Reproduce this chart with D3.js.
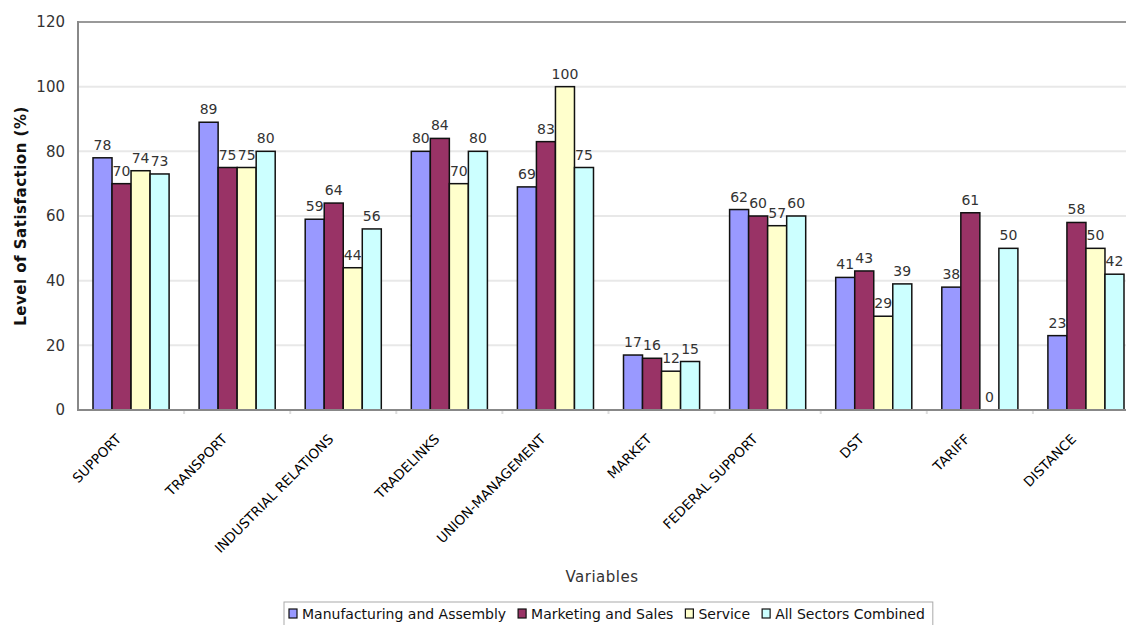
<!DOCTYPE html>
<html><head><meta charset="utf-8">
<script src="https://cdn.jsdelivr.net/npm/d3@7"></script>
<style>body{margin:0;background:#fff;} svg{display:block;}</style>
</head><body>
<svg id="c" width="1126" height="625"></svg>
<script>
const categories = ["SUPPORT","TRANSPORT","INDUSTRIAL RELATIONS","TRADELINKS","UNION-MANAGEMENT","MARKET","FEDERAL SUPPORT","DST","TARIFF","DISTANCE"];
const seriesNames = ["Manufacturing and Assembly","Marketing and Sales","Service","All Sectors Combined"];
const manufacturing = [78,89,59,80,69,17,62,41,38,23];
const marketing = [70,75,64,84,83,16,60,43,61,58];
const service = [74,75,44,70,100,12,57,29,0,50];
const allSectors = [73,80,56,80,75,15,60,39,50,42];
const yTicks = [0,20,40,60,80,100,120];
const colors = ["#9999ff","#993366","#ffffcc","#ccffff"];
const series = [manufacturing, marketing, service, allSectors];

(function(){
const FONT = "DejaVu Sans, Verdana, sans-serif";
const svg = d3.select("#c");
const pL = 78, pR = 1139, pT = 22, pB = 410;
const x0 = d3.scaleBand().domain(categories).range([pL, pR]).padding(0);
const x1 = d3.scaleBand().domain(d3.range(4)).range([15, x0.bandwidth() - 15]).padding(0);
const y = d3.scaleLinear().domain([0,120]).range([pB, pT]);

// gridlines
svg.append("g").selectAll("line").data(yTicks.filter(d => d > 0 && d < 120)).join("line")
  .attr("x1", pL).attr("x2", 1126).attr("y1", d => y(d)).attr("y2", d => y(d))
  .attr("stroke", "#e8e8e8").attr("stroke-width", 2);

// top frame
svg.append("line").attr("x1", pL).attr("x2", 1126).attr("y1", y(120)).attr("y2", y(120))
  .attr("stroke", "#999").attr("stroke-width", 2);

// bottom tick marks
svg.append("g").selectAll("line").data(categories.slice(1)).join("line")
  .attr("x1", d => x0(d)).attr("x2", d => x0(d)).attr("y1", pB).attr("y2", pB + 4)
  .attr("stroke", "#ddd").attr("stroke-width", 2);

// bars
const groups = svg.append("g").selectAll("g").data(categories).join("g")
  .attr("transform", d => `translate(${x0(d)},0)`);
groups.selectAll("rect").data((d, i) => series.map((s, k) => ({k, v: s[i]}))).join("rect")
  .attr("x", d => x1(d.k)).attr("width", x1.bandwidth())
  .attr("y", d => y(d.v)).attr("height", d => y(0) - y(d.v))
  .attr("fill", d => colors[d.k]).attr("stroke", "#111").attr("stroke-width", 1.5);
groups.selectAll("text").data((d, i) => series.map((s, k) => ({k, v: s[i]}))).join("text")
  .attr("x", d => x1(d.k) + x1.bandwidth() / 2).attr("y", d => y(d.v) - 8)
  .attr("text-anchor", "middle").attr("font-family", FONT)
  .attr("font-size", 14).attr("fill", "#333").text(d => d.v);

// axes lines
svg.append("line").attr("x1", pL).attr("x2", pL).attr("y1", pT - 1).attr("y2", pB + 1)
  .attr("stroke", "#888").attr("stroke-width", 2);
svg.append("line").attr("x1", pL).attr("x2", 1126).attr("y1", pB).attr("y2", pB)
  .attr("stroke", "#888").attr("stroke-width", 2);

// y tick labels
const yAxis = d3.axisLeft(y).tickValues(yTicks).tickSize(0).tickPadding(13);
const ya = svg.append("g").attr("transform", `translate(${pL},0)`).call(yAxis);
ya.select(".domain").remove();
ya.selectAll("text").attr("font-family", FONT)
  .attr("font-size", 15).attr("fill", "#333");

// x labels
const xAxis = d3.axisBottom(x0).tickSize(0).tickPadding(0);
const xa = svg.append("g").attr("transform", `translate(0,${pB})`).call(xAxis);
xa.select(".domain").remove();
xa.selectAll("text")
  .attr("font-family", FONT).attr("font-size", 13.5).attr("fill", "#000")
  .attr("text-anchor", "end").attr("dy", 0).attr("y", 0)
  .attr("transform", "translate(-9,30) rotate(-45)");

// axis titles
svg.append("text").attr("x", 602).attr("y", 582).attr("text-anchor", "middle")
  .attr("font-family", FONT).attr("font-size", 15)
  .attr("letter-spacing", 0.5).attr("fill", "#333").text("Variables");
svg.append("text").attr("transform", "translate(26,216) rotate(-90)").attr("text-anchor", "middle")
  .attr("font-family", FONT).attr("font-size", 15).attr("font-weight", "bold")
  .attr("letter-spacing", 0.5).attr("fill", "#111").text("Level of Satisfaction (%)");

// legend
const lg = svg.append("g");
const box = lg.append("rect").attr("x", 284).attr("y", 602).attr("height", 30)
  .attr("fill", "#fff").attr("stroke", "#aaa").attr("stroke-width", 1);
let cx = 289;
seriesNames.forEach((name, k) => {
  lg.append("rect").attr("x", cx).attr("y", 609).attr("width", 8).attr("height", 9)
    .attr("fill", colors[k]).attr("stroke", "#111").attr("stroke-width", 1.2);
  const t = lg.append("text").attr("x", cx + 13).attr("y", 619)
    .attr("font-family", FONT).attr("font-size", 14).attr("fill", "#111").text(name);
  cx += 13 + t.node().getComputedTextLength() + 12;
});
box.attr("width", cx - 284 - 4);
})();
</script>
</body></html>
